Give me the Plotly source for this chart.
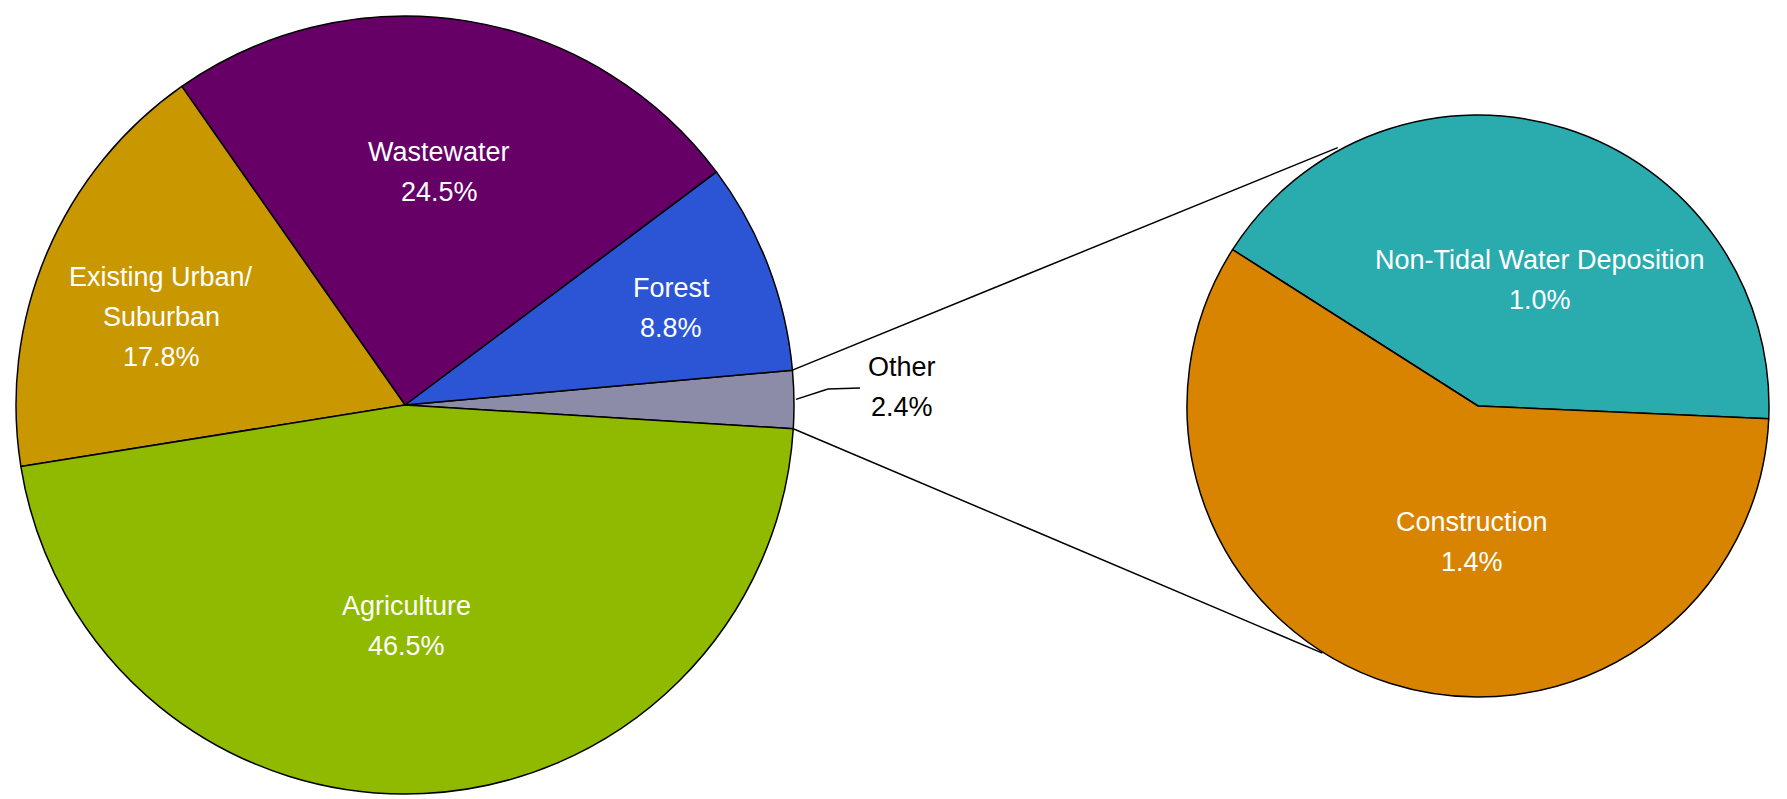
import numpy as np
import plotly.graph_objects as go

# ---------------- data ----------------
main_labels = ["Other", "Forest", "Wastewater", "Existing Urban/<br>Suburban", "Agriculture"]
main_values = [2.4, 8.8, 24.5, 17.8, 46.5]

sub_labels = ["Non-Tidal Water Deposition", "Construction"]
sub_values = [1.0, 1.4]

# ---------------- style ----------------
W, H = 1787, 799
main_colors = ["#8C8CA8", "#2B55D5", "#660066", "#C99800", "#8FBA00"]
sub_colors = ["#2AABAE", "#D88400"]
FONT = "Liberation Sans, Arial, sans-serif"
FS = 27
LINE_GAP = 40  # px between text lines

# pie geometry in pixels (center x, center y, radius) and start angle
L_CX, L_CY, L_R = 405, 405, 389
R_CX, R_CY, R_R = 1478, 406, 291
L_START = -3.5   # math degrees where first slice starts (counterclockwise)
R_START = -2.5


def px(x):
    return x / W


def py(y):
    return 1 - y / H


def dom(cx, cy, r):
    return dict(x=[px(cx - r), px(cx + r)], y=[py(cy + r), py(cy - r)])


def plotly_rotation(start, values):
    # plotly (counterclockwise) places the end of the first slice at the rotation angle
    first_end = start + values[0] / sum(values) * 360
    return 90 - first_end


fig = go.Figure()
fig.add_trace(go.Pie(
    labels=main_labels, values=main_values, sort=False, direction="counterclockwise",
    rotation=plotly_rotation(L_START, main_values),
    marker=dict(colors=main_colors, line=dict(color="black", width=1.5)),
    textinfo="none", hoverinfo="label+percent", showlegend=False, domain=dom(L_CX, L_CY, L_R)))
fig.add_trace(go.Pie(
    labels=sub_labels, values=sub_values, sort=False, direction="counterclockwise",
    rotation=plotly_rotation(R_START, sub_values),
    marker=dict(colors=sub_colors, line=dict(color="black", width=1.5)),
    textinfo="none", hoverinfo="label+value", showlegend=False, domain=dom(R_CX, R_CY, R_R)))

annotations = []


def add_label(cx, cy, lines, color):
    n = len(lines)
    for i, t in enumerate(lines):
        yy = cy + (i - (n - 1) / 2) * LINE_GAP
        annotations.append(dict(x=px(cx), y=py(yy), xref="paper", yref="paper", text=t,
                                showarrow=False, xanchor="center", yanchor="middle",
                                font=dict(family=FONT, size=FS, color=color)))


# label offsets in units of radius (dx right, dy up)
main_offsets = [None, (0.684, 0.250), (0.088, 0.598), (-0.627, 0.226), (0.003, -0.568)]
for lab, val, off in zip(main_labels, main_values, main_offsets):
    if off is None:
        continue
    lines = lab.split("<br>") + [f"{val:.1f}%"]
    add_label(L_CX + off[0] * L_R, L_CY - off[1] * L_R, lines, "white")

sub_offsets = [(0.213, 0.433), (-0.021, -0.468)]
for lab, val, off in zip(sub_labels, sub_values, sub_offsets):
    lines = lab.split("<br>") + [f"{val:.1f}%"]
    add_label(R_CX + off[0] * R_R, R_CY - off[1] * R_R, lines, "white")

# "Other" slice boundaries / mid angle from data
tot = sum(main_values)
o_a0 = L_START
o_a1 = L_START + main_values[0] / tot * 360
o_mid = (o_a0 + o_a1) / 2


def edge(cx, cy, r, ang):
    a = np.radians(ang)
    return cx + r * np.cos(a), cy - r * np.sin(a)


# outside label for Other
add_label(902, 387, [main_labels[0], f"{main_values[0]:.1f}%"], "black")

shapes = []


def seg(p0, p1):
    shapes.append(dict(type="line", xref="paper", yref="paper",
                       x0=px(p0[0]), y0=py(p0[1]), x1=px(p1[0]), y1=py(p1[1]),
                       line=dict(color="black", width=1.5)))


# connector lines between the Other slice and the breakdown pie
seg(edge(L_CX, L_CY, L_R, o_a1), edge(R_CX, R_CY, R_R + 3, 118.5))
seg(edge(L_CX, L_CY, L_R, o_a0), edge(R_CX, R_CY, R_R + 1, 237.8))
# leader for the Other label
p_mid = edge(L_CX, L_CY, L_R + 2, o_mid)
seg(p_mid, (828, 389))
seg((828, 389), (860, 388))

fig.update_layout(width=W, height=H, margin=dict(l=0, r=0, t=0, b=0),
                  paper_bgcolor="white", plot_bgcolor="white",
                  annotations=annotations, shapes=shapes)
fig.write_html("out.html")
